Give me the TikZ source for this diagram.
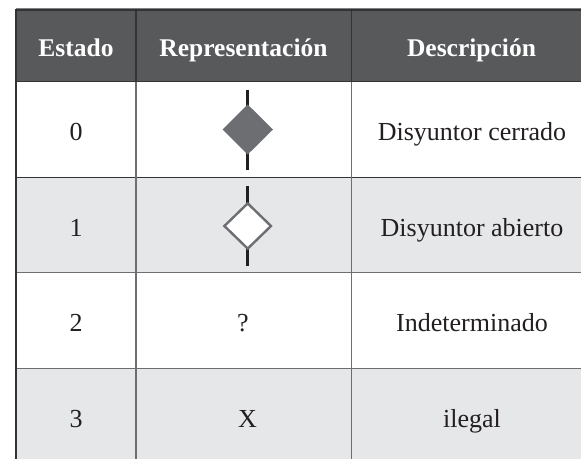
\documentclass[tikz,border=0pt]{standalone}
\usepackage{fontspec}
\setmainfont{Liberation Serif}
\definecolor{headfill}{HTML}{58595B}
\definecolor{rowfill}{HTML}{E6E7E8}
\definecolor{darkline}{HTML}{333333}
\definecolor{gridline}{HTML}{6D6E71}
\definecolor{symfill}{HTML}{6D6E71}
\definecolor{inktext}{HTML}{231F20}
\tikzset{
  headtext/.style={text=white,font=\fontsize{25.5}{30}\selectfont\bfseries,anchor=base},
  celltext/.style={text=inktext,font=\fontsize{26}{30}\selectfont,anchor=base},
  lead/.style={draw=inktext,line width=2.6pt},
  gridrule/.style={draw=gridline,line width=1.5pt},
  darkrule/.style={draw=darkline,line width=1.5pt},
}
\begin{document}
\begin{tikzpicture}[x=1pt,y=-1pt]
\useasboundingbox (0,0) rectangle (581,459);
\fill[white] (0,0) rectangle (581,459);
\fill[headfill] (16,9.5) rectangle (581,81.5);
\fill[rowfill] (16,177.5) rectangle (581,272.5);
\fill[rowfill] (16,368.5) rectangle (581,459);
% horizontal rules
\draw[draw=gray,line width=1pt] (16,8.7) -- (581,8.7);
\draw[darkrule] (16,10) -- (581,10);
\draw[darkrule] (16,81.5) -- (581,81.5);
\draw[darkrule] (16,177.5) -- (581,177.5);
\draw[gridrule] (16,272.7) -- (581,272.7);
\draw[gridrule] (16,368.3) -- (581,368.3);
% vertical rules
\draw[darkrule] (136,10) -- (136,81.5);
\draw[darkrule] (351.7,10) -- (351.7,81.5);
\draw[gridrule] (136,81.5) -- (136,459);
\draw[gridrule] (351.7,81.5) -- (351.7,459);
\draw[draw=darkline,line width=2pt] (16,9) -- (16,459);
% header
\node[headtext] (h1) at (76,56) {Estado};
\node[headtext] (h2) at (243.5,56) {Representación};
\node[headtext] (h3) at (471.5,56) {Descripción};
% rows
\node[celltext] (a0) at (76,140) {0};
\node[celltext] (a1) at (76,236) {1};
\node[celltext] (a2) at (76,331) {2};
\node[celltext] (a3) at (76,427) {3};
\node[celltext] (c0) at (472,140.5) {Disyuntor cerrado};
\node[celltext] (c1) at (472,236) {Disyuntor abierto};
\node[celltext] (c2) at (472,331) {Indeterminado};
\node[celltext] (c3) at (472,427) {ilegal};
\node[celltext] (b2) at (243,331) {?};
\node[celltext] (b3) at (247.5,427) {X};
% symbols
\draw[lead] (247.7,89.5) -- (247.7,169.5);
\fill[symfill] (247.7,104.5) -- (273,129.5) -- (247.7,154.5) -- (222.5,129.5) -- cycle;
\draw[lead] (247.7,186) -- (247.7,266);
\draw[fill=white,draw=gridline,line width=2.4pt] (247.7,203.4) -- (271,226) -- (247.7,248.6) -- (224.4,226) -- cycle;
\end{tikzpicture}
\end{document}
